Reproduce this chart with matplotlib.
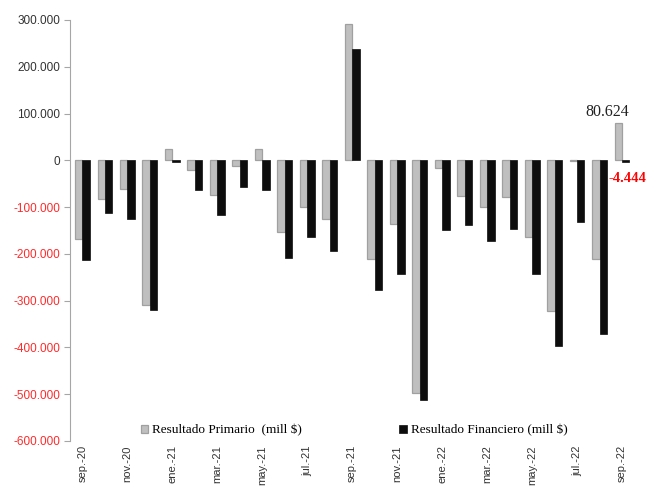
import numpy as np
import matplotlib.pyplot as plt
from matplotlib.ticker import FuncFormatter

meses = ["sep.-20", "oct.-20", "nov.-20", "dic.-20", "ene.-21", "feb.-21", "mar.-21",
         "abr.-21", "may.-21", "jun.-21", "jul.-21", "ago.-21", "sep.-21", "oct.-21",
         "nov.-21", "dic.-21", "ene.-22", "feb.-22", "mar.-22", "abr.-22", "may.-22",
         "jun.-22", "jul.-22", "ago.-22", "sep.-22"]

# millones de $
primario = [-168000, -82000, -61000, -310000, 24000, -20000, -75000, -12000, 25000,
            -154000, -100000, -125000, 292000, -210000, -136000, -497000, -16000,
            -77000, -100000, -79000, -164000, -322000, -2000, -210000, 80624]
financiero = [-213000, -113000, -126000, -320000, -3000, -64000, -117000, -58000, -64000,
              -208000, -163000, -193000, 238000, -277000, -243000, -513000, -150000,
              -138000, -172000, -147000, -243000, -396000, -131000, -371000, -4444]

x = np.arange(len(meses))
w = 0.33

fig = plt.figure(figsize=(6.49, 4.87), dpi=100)
ax = fig.add_axes([0.108, 0.0945, 0.866, 0.8645])

ax.bar(x - w / 2, primario, w, color="#bfbfbf", edgecolor="#a0a0a0", linewidth=0.9,
       label="Resultado Primario  (mill $)")
ax.bar(x + w / 2, financiero, w, color="#0d0d0d", edgecolor="#0d0d0d", linewidth=0.5,
       label="Resultado Financiero (mill $)")

ax.set_ylim(-600000, 300000)
ax.set_xlim(-0.55, 24.45)
ax.set_yticks(np.arange(-600000, 300001, 100000))
ax.yaxis.set_major_formatter(FuncFormatter(lambda v, p: f"{v:,.0f}".replace(",", ".")))
for lab in ax.get_yticklabels():
    lab.set_fontfamily("Liberation Sans")
    lab.set_fontsize(8.5)
    lab.set_color("#ff2a2a" if lab.get_position()[1] < 0 else "#333333")

ax.set_xticks(x[::2])
ax.set_xticklabels(meses[::2], rotation=90, fontfamily="Liberation Sans", fontsize=8,
                   color="#333333")
ax.tick_params(axis="x", length=0, pad=3)
ax.tick_params(axis="y", length=4, color="#a6a6a6", direction="out", pad=3)

for s in ["top", "right", "bottom"]:
    ax.spines[s].set_visible(False)
ax.spines["left"].set_color("#a6a6a6")

# etiquetas del último mes
ax.annotate(f"{primario[-1]:,.0f}".replace(",", "."), (x[-1] - w / 2, primario[-1]),
            xytext=(-11, 3), textcoords="offset pixels", ha="center", va="bottom",
            fontfamily="Liberation Serif", fontsize=11.5, color="#222222")
ax.annotate(f"{financiero[-1]:,.0f}".replace(",", "."), (x[-1] + w / 2, financiero[-1]),
            xytext=(-17, -10), textcoords="offset pixels", ha="left", va="top",
            fontfamily="Liberation Serif", fontsize=10.5, fontweight="bold", color="#ff0000")

ax.legend(loc="center", bbox_to_anchor=(0.505, 0.025), ncol=2, frameon=False,
          prop={"family": "Liberation Serif", "size": 9.5}, handlelength=0.6,
          handleheight=0.6, handletextpad=0.3, columnspacing=7.3)

fig.savefig("out.png", dpi=100)
